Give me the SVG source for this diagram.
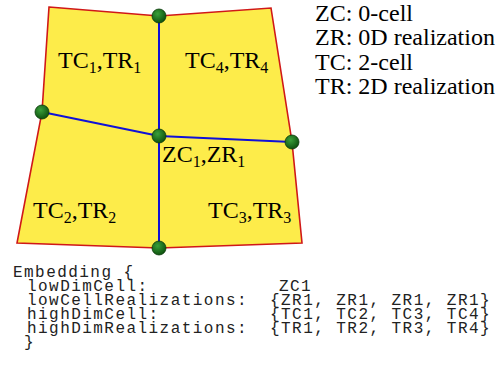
<svg xmlns="http://www.w3.org/2000/svg" width="498" height="372" viewBox="0 0 498 372">
<style>
.lbl{font-family:"Liberation Serif","Times New Roman",serif;font-size:24px;fill:#000}
.sub{font-size:16px}
.code{font-family:"Liberation Mono","Courier New",monospace;font-size:16px;letter-spacing:1.45px;fill:#222}
.edge{stroke:#1010d8;stroke-width:2;fill:none}
.node{fill:url(#g);stroke:#0a3a0a;stroke-width:0.8}
</style>
<defs>
<radialGradient id="g" cx="0.4" cy="0.35" r="0.7">
<stop offset="0" stop-color="#3aa03a"/>
<stop offset="1" stop-color="#0b4d0b"/>
</radialGradient>
</defs>
<rect width="498" height="372" fill="#fff"/>
<g id="face">
<polygon points="49,7 159,16 271,8 292,142 302,243 159,248 17,243 42,112" fill="#fdec4a" stroke="#d01818" stroke-width="1.6"/>
</g>
<g id="connectors">
<line class="edge" x1="159" y1="16" x2="159" y2="136"/>
<line class="edge" x1="159" y1="136" x2="159" y2="248"/>
<line class="edge" x1="42" y1="112" x2="159" y2="136"/>
<line class="edge" x1="159" y1="136" x2="292" y2="142"/>
</g>
<g id="n-top"><circle class="node" cx="159" cy="16" r="7"/></g>
<g id="n-left"><circle class="node" cx="42" cy="112" r="7"/></g>
<g id="n-center"><circle class="node" cx="159" cy="136" r="7"/></g>
<g id="n-right"><circle class="node" cx="292" cy="142" r="7"/></g>
<g id="n-bottom"><circle class="node" cx="159" cy="248" r="7"/></g>
<g id="labels">
<text class="lbl" x="58" y="68">TC<tspan class="sub" dy="5">1</tspan><tspan dy="-5">,TR</tspan><tspan class="sub" dy="5">1</tspan></text>
<text class="lbl" x="185" y="68">TC<tspan class="sub" dy="5">4</tspan><tspan dy="-5">,TR</tspan><tspan class="sub" dy="5">4</tspan></text>
<text class="lbl" x="162" y="162">ZC<tspan class="sub" dy="5">1</tspan><tspan dy="-5">,ZR</tspan><tspan class="sub" dy="5">1</tspan></text>
<text class="lbl" x="33" y="218">TC<tspan class="sub" dy="5">2</tspan><tspan dy="-5">,TR</tspan><tspan class="sub" dy="5">2</tspan></text>
<text class="lbl" x="208" y="218">TC<tspan class="sub" dy="5">3</tspan><tspan dy="-5">,TR</tspan><tspan class="sub" dy="5">3</tspan></text>
</g>
<g id="legend">
<text class="lbl" x="315" y="21">ZC: 0-cell</text>
<text class="lbl" x="315" y="45">ZR: 0D realization</text>
<text class="lbl" x="315" y="70">TC: 2-cell</text>
<text class="lbl" x="315" y="94">TR: 2D realization</text>
</g>
<g id="code">
<text class="code" x="13" y="277">Embedding {</text>
<text class="code" x="27" y="291">lowDimCell:</text>
<text class="code" x="27" y="305">lowCellRealizations:</text>
<text class="code" x="27" y="319">highDimCell:</text>
<text class="code" x="27" y="333">highDimRealizations:</text>
<text class="code" x="24" y="347">}</text>
<text class="code" x="279" y="291">ZC1</text>
<text class="code" x="270" y="305">{ZR1, ZR1, ZR1, ZR1}</text>
<text class="code" x="270" y="319">{TC1, TC2, TC3, TC4}</text>
<text class="code" x="270" y="333">{TR1, TR2, TR3, TR4}</text>
</g>
</svg>
